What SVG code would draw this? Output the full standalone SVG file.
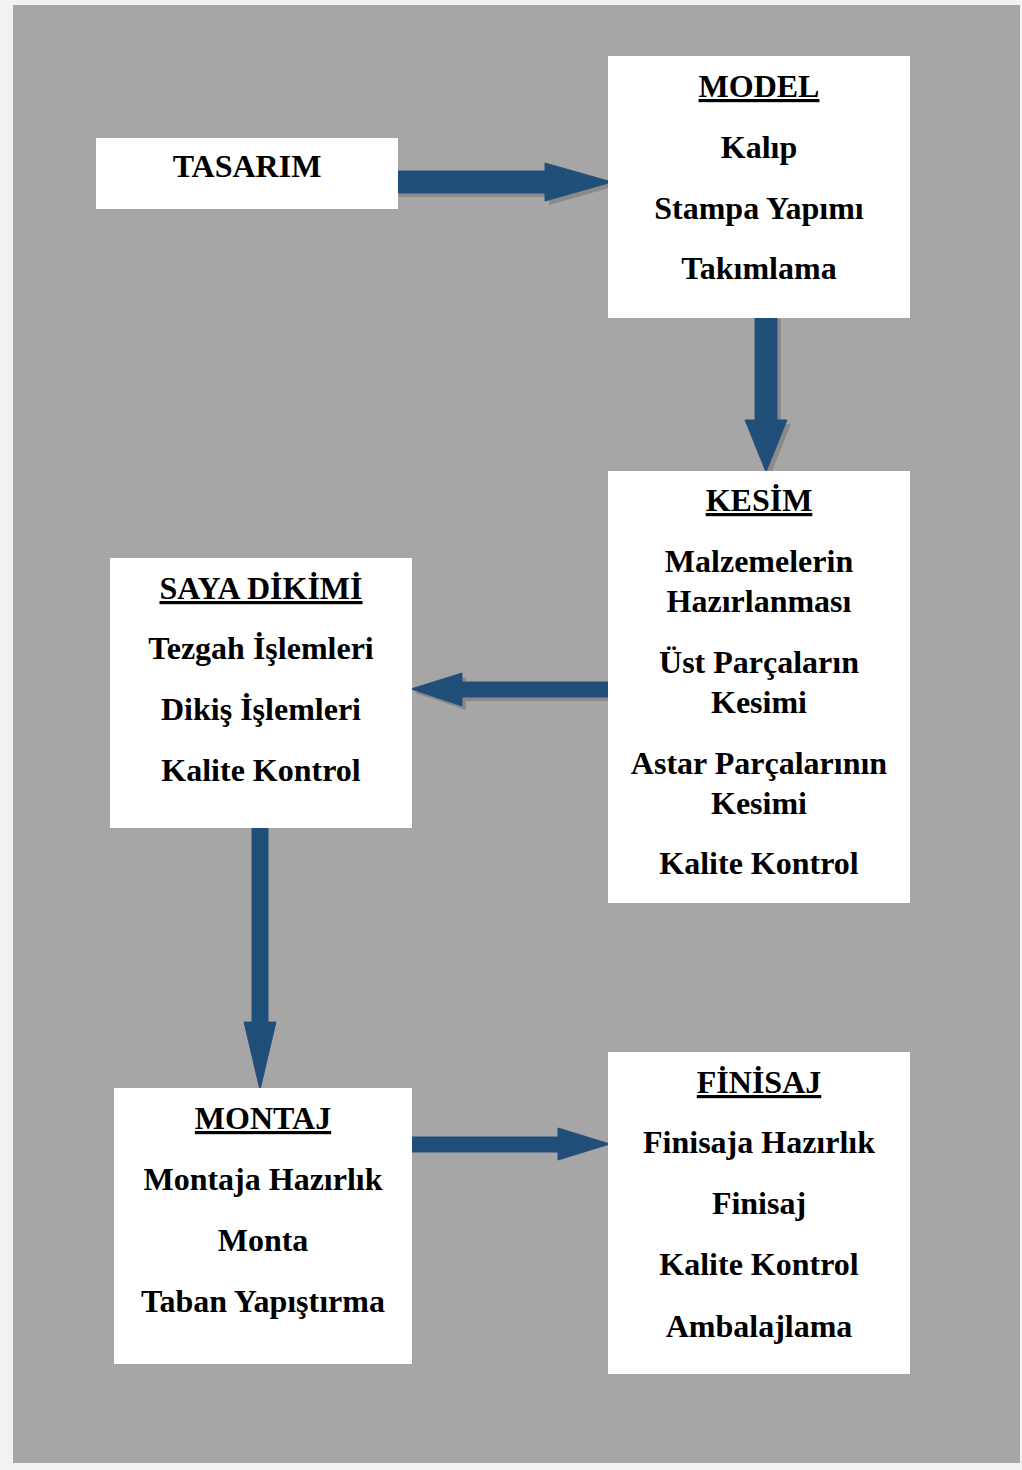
<svg xmlns="http://www.w3.org/2000/svg" width="1022" height="1470" viewBox="0 0 1022 1470">
<style>
.box{fill:#ffffff}
.t{font-family:"Liberation Serif","Times New Roman",serif;font-weight:bold;font-size:32px;fill:#000;text-anchor:middle}
.u{text-decoration:underline}
.arr{fill:#1f4e79;stroke:#2a4f7a;stroke-width:1}
.sh{fill:#7f7f7f;opacity:0.7}
</style>
<rect x="0" y="0" width="1022" height="1470" fill="#f2f2f2"/>
<rect x="13" y="5" width="1007" height="1458" fill="#a6a6a6"/>
<g id="connectors">
  <g id="c1">
    <polygon class="sh" points="399,175 549,175 549,167 616,186 549,205 549,197 399,197"/>
    <polygon class="arr" points="395,171 545,171 545,163 612,182 545,201 545,193 395,193"/>
  </g>
  <g id="c2">
    <polygon class="sh" points="759,319 781,319 781,424 791,424 770,476 749,424 759,424" fill="#5a7aa0"/>
    <polygon class="arr" points="755,315 777,315 777,420 787,420 766,472 745,420 755,420"/>
  </g>
  <g id="c3">
    <polygon class="sh" points="612,686 612,701 466,701 466,710 415,693 466,677 466,686"/>
    <polygon class="arr" points="608,682 608,697 462,697 462,706 411,689 462,673 462,682"/>
  </g>
  <g id="c4">
    <polygon class="arr" points="252,828 268,828 268,1022 276,1022 260,1090 244,1022 252,1022"/>
  </g>
  <g id="c5">
    <polygon class="arr" points="412,1137 558,1137 558,1128 610,1144 558,1160 558,1152 412,1152"/>
  </g>
</g>
<g id="tasarim">
  <rect class="box" x="96" y="138" width="302" height="71"/>
  <text class="t" x="247" y="177">TASARIM</text>
</g>
<g id="model">
  <rect class="box" x="608" y="56" width="302" height="262"/>
  <text class="t u" x="759" y="97">MODEL</text>
  <text class="t" x="759" y="158">Kalıp</text>
  <text class="t" x="759" y="219">Stampa Yapımı</text>
  <text class="t" x="759" y="279">Takımlama</text>
</g>
<g id="kesim">
  <rect class="box" x="608" y="471" width="302" height="432"/>
  <text class="t u" x="759" y="511">KESİM</text>
  <text class="t" x="759" y="572">Malzemelerin</text>
  <text class="t" x="759" y="612">Hazırlanması</text>
  <text class="t" x="759" y="673">Üst Parçaların</text>
  <text class="t" x="759" y="713">Kesimi</text>
  <text class="t" x="759" y="774">Astar Parçalarının</text>
  <text class="t" x="759" y="814">Kesimi</text>
  <text class="t" x="759" y="874">Kalite Kontrol</text>
</g>
<g id="saya">
  <rect class="box" x="110" y="558" width="302" height="270"/>
  <text class="t u" x="261" y="599">SAYA DİKİMİ</text>
  <text class="t" x="261" y="659">Tezgah İşlemleri</text>
  <text class="t" x="261" y="720">Dikiş İşlemleri</text>
  <text class="t" x="261" y="781">Kalite Kontrol</text>
</g>
<g id="montaj">
  <rect class="box" x="114" y="1088" width="298" height="276"/>
  <text class="t u" x="263" y="1129">MONTAJ</text>
  <text class="t" x="263" y="1190">Montaja Hazırlık</text>
  <text class="t" x="263" y="1251">Monta</text>
  <text class="t" x="263" y="1312">Taban Yapıştırma</text>
</g>
<g id="finisaj">
  <rect class="box" x="608" y="1052" width="302" height="322"/>
  <text class="t u" x="759" y="1093">FİNİSAJ</text>
  <text class="t" x="759" y="1153">Finisaja Hazırlık</text>
  <text class="t" x="759" y="1214">Finisaj</text>
  <text class="t" x="759" y="1275">Kalite Kontrol</text>
  <text class="t" x="759" y="1337">Ambalajlama</text>
</g>
</svg>
